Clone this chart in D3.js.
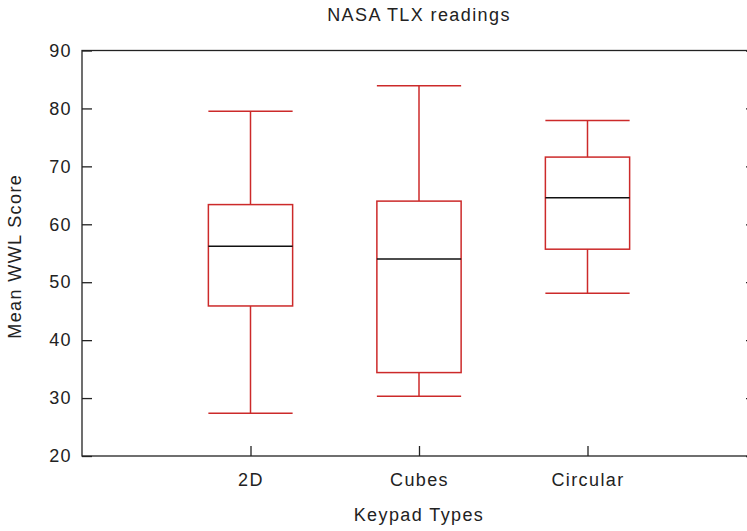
<!DOCTYPE html>
<html>
<head>
<meta charset="utf-8">
<script src="https://cdn.jsdelivr.net/npm/d3@7"></script>
<style>
  body { margin: 0; background: #fff; }
  text { font-family: "Liberation Sans", Arial, sans-serif; fill: #222; letter-spacing: 1.4px; }
</style>
</head>
<body>
<div id="c"></div>
<script>
var categories = ["2D", "Cubes", "Circular"];
var mins    = [27.4, 30.3, 48.1];
var q1s     = [45.9, 34.4, 55.7];
var medians = [56.2, 54.0, 64.6];
var q3s     = [63.4, 64.0, 71.6];
var maxs    = [79.5, 83.9, 77.9];
var y_ticks = [20, 30, 40, 50, 60, 70, 80, 90];

var width = 747, height = 531;
var p_left = 82, p_right = 756, p_top = 50.5, p_bottom = 456;
var red = "#cc2a2a";
var font_size = "18px";

var svg = d3.select("#c").append("svg")
	.attr("width", width)
	.attr("height", height);

var x_scale = d3.scaleLinear().domain([0, 4]).range([p_left, p_right]);
var y_scale = d3.scaleLinear().domain([20, 90]).range([p_bottom, p_top]);

// frame
svg.append("rect")
	.attr("x", p_left).attr("y", p_top)
	.attr("width", p_right - p_left).attr("height", p_bottom - p_top)
	.attr("fill", "none").attr("stroke", "#222").attr("stroke-width", 1.3);

function style_axis(g) {
	g.select(".domain").remove();
	g.selectAll("line").attr("stroke", "#222").attr("stroke-width", 1.3);
	g.selectAll("text").attr("font-size", font_size).attr("fill", "#222")
		.attr("font-family", "Liberation Sans, Arial, sans-serif");
}

// y axis, ticks inside, mirrored on the right
svg.append("g")
	.attr("transform", "translate(" + p_left + ",0)")
	.call(d3.axisLeft(y_scale).tickValues(y_ticks).tickSize(-10).tickPadding(10))
	.call(style_axis);

svg.append("g")
	.attr("transform", "translate(" + p_right + ",0)")
	.call(d3.axisRight(y_scale).tickValues(y_ticks).tickSize(-10).tickFormat(""))
	.call(style_axis);

// x axis
svg.append("g")
	.attr("transform", "translate(0," + p_bottom + ")")
	.call(d3.axisBottom(x_scale).tickValues([1, 2, 3]).tickSize(-10).tickPadding(17)
		.tickFormat(function(d) { return categories[d - 1]; }))
	.call(style_axis);

// boxes
var half = 0.25;
var boxes = svg.selectAll(".box")
	.data(categories)
	.enter()
	.append("g")
	.attr("class", "box");

boxes.each(function(d, i) {
	var g = d3.select(this);
	var cx = x_scale(i + 1), x0 = x_scale(i + 1 - half), x1 = x_scale(i + 1 + half);
	// whiskers
	g.append("line").attr("x1", cx).attr("x2", cx)
		.attr("y1", y_scale(maxs[i])).attr("y2", y_scale(q3s[i]));
	g.append("line").attr("x1", cx).attr("x2", cx)
		.attr("y1", y_scale(q1s[i])).attr("y2", y_scale(mins[i]));
	g.append("line").attr("x1", x0).attr("x2", x1)
		.attr("y1", y_scale(maxs[i])).attr("y2", y_scale(maxs[i]));
	g.append("line").attr("x1", x0).attr("x2", x1)
		.attr("y1", y_scale(mins[i])).attr("y2", y_scale(mins[i]));
	g.append("rect")
		.attr("x", x0).attr("width", x1 - x0)
		.attr("y", y_scale(q3s[i])).attr("height", y_scale(q1s[i]) - y_scale(q3s[i]))
		.attr("fill", "none");
	g.selectAll("line, rect").attr("stroke", red).attr("stroke-width", 1.5);
	g.append("line").attr("x1", x0).attr("x2", x1)
		.attr("y1", y_scale(medians[i])).attr("y2", y_scale(medians[i]))
		.attr("stroke", "#111").attr("stroke-width", 1.5);
});

// titles
svg.append("text")
	.attr("x", (p_left + p_right) / 2).attr("y", 21)
	.attr("text-anchor", "middle").attr("font-size", font_size)
	.text("NASA TLX readings");

svg.append("text")
	.attr("x", (p_left + p_right) / 2).attr("y", 521)
	.attr("text-anchor", "middle").attr("font-size", font_size)
	.text("Keypad Types");

svg.append("text")
	.attr("transform", "translate(21," + ((p_top + p_bottom) / 2 + 3) + ") rotate(-90)")
	.attr("text-anchor", "middle").attr("font-size", font_size)
	.text("Mean WWL Score");
</script>
</body>
</html>
